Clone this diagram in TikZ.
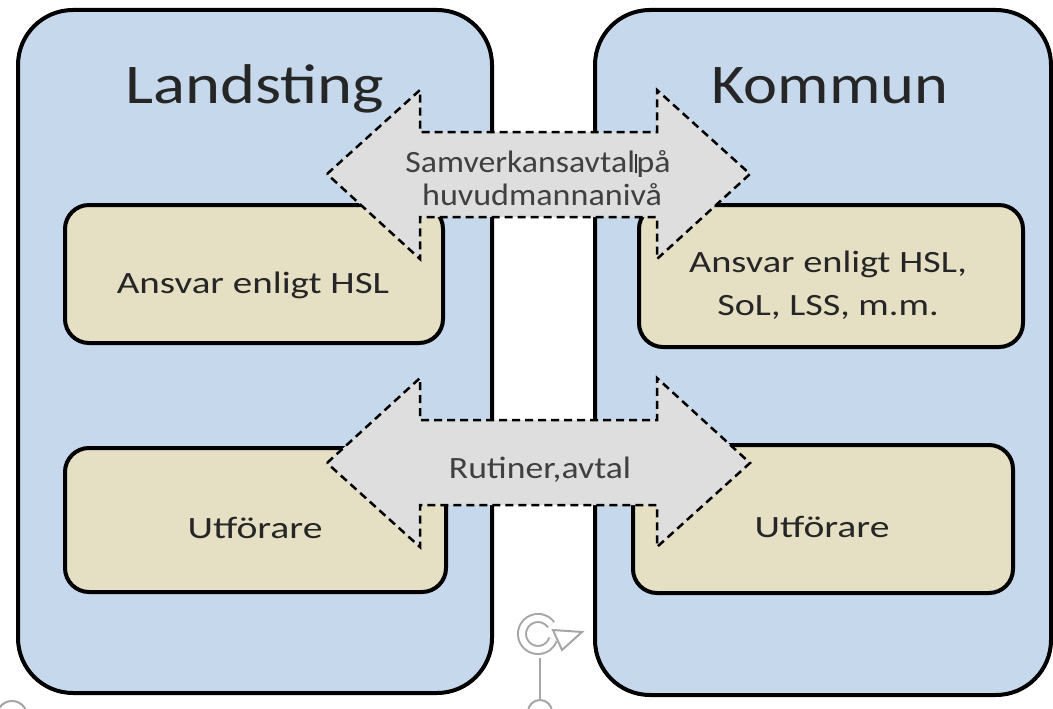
\documentclass[tikz,border=0pt]{standalone}
\usepackage{fontspec}
\setmainfont{Carlito}
\usepackage{graphicx}
\usepackage{xcolor}
\usepackage{tikz}

\definecolor{boxblue}{HTML}{C6D8EB}
\definecolor{boxtan}{HTML}{E5DFC4}
\definecolor{linkgray}{HTML}{DEDEDE}
\definecolor{textdark}{HTML}{262626}
\newcommand{\stretchtxt}[2]{\scalebox{#1}[1]{#2}}

\begin{document}
\begin{tikzpicture}[x=1pt, y=-1pt,
		outer/.style={draw=black, line width=4pt, fill=boxblue, rounded corners=55pt},
		inner/.style={draw=black, line width=4pt, fill=boxtan, rounded corners=24pt},
		link/.style={draw=black, line width=2.5pt, dash pattern=on 8pt off 5pt, fill=linkgray, line join=miter},
		title/.style={font=\fontsize{56}{60}\selectfont, text=textdark, anchor=base, inner sep=0pt},
		txt/.style={font=\fontsize{31}{37}\selectfont, text=textdark, anchor=base, inner sep=0pt},
		linktxt/.style={font=\fontsize{31}{37}\selectfont, text=black!75, anchor=base, inner sep=0pt},
		handle/.style={draw=black!35, line width=2pt}]
	\clip (0,0) rectangle (1053,709);
	\useasboundingbox (0,0) rectangle (1053,709);

	% huvudmän
	\draw[outer] (18,10) rectangle (492,693);
	\draw[outer] (595,10) rectangle (1051,695);
	\node[title] (landsting) at (255,103) {\stretchtxt{1.19}{Landsting}};
	\node[title] (kommun) at (830,103) {\stretchtxt{1.15}{Kommun}};

	% ansvar och utförare
	\draw[inner] (65,205) rectangle (443,343);
	\draw[inner] (639,205) rectangle (1023,347);
	\draw[inner] (65,448) rectangle (446,592);
	\draw[inner] (633,445) rectangle (1013,593);
	\node[txt] (ansvarL) at (253,293) {\stretchtxt{1.26}{Ansvar enligt HSL}};
	\node[txt] (ansvarK1) at (828,272) {\stretchtxt{1.24}{Ansvar enligt HSL,}};
	\node[txt] (ansvarK2) at (828,315) {\stretchtxt{1.23}{SoL, LSS, m.m.}};
	\node[txt] (utforL) at (255,538) {\stretchtxt{1.28}{Utförare}};
	\node[txt] (utforK) at (822,537) {\stretchtxt{1.28}{Utförare}};

	% samverkan
	\draw[link] (327,174) -- (420,90) -- (420,132) -- (657,132) -- (657,90) -- (750,174)
		-- (657,259) -- (657,217) -- (420,217) -- (420,259) -- cycle;
	\draw[link] (327,463) -- (420,378) -- (420,420) -- (657,420) -- (657,378) -- (750,463)
		-- (657,547) -- (657,505) -- (420,505) -- (420,547) -- cycle;
	\node[linktxt] (avtal1) at (538,172) {\stretchtxt{1.09}{Samverkansavtal{\color{black!80}\rule[-1pt]{1.5pt}{19pt}}på}};
	\node[linktxt] (avtal2) at (542,205) {\stretchtxt{1.1}{huvudmannanivå}};
	\node[linktxt] (rutiner) at (540,478) {\stretchtxt{1.15}{Rutiner,avtal}};

	% markering
	\draw[handle, double=white, double distance=6pt, line width=2pt]
		(551.1,624.8) arc[start angle=-35, end angle=-340, radius=16];
	\filldraw[handle, fill=white, line width=2pt, line join=miter] (553,630) -- (582,632) -- (562,650) -- cycle;
	\coordinate (vrid) at (540,658);
	\node[handle, circle, minimum size=24pt, inner sep=0pt] (greppM) at (540,712) {};
	\node[handle, circle, minimum size=30pt, inner sep=0pt] (greppV) at (12,716) {};
	\draw[handle] (vrid) -- (greppM);
\end{tikzpicture}
\end{document}
